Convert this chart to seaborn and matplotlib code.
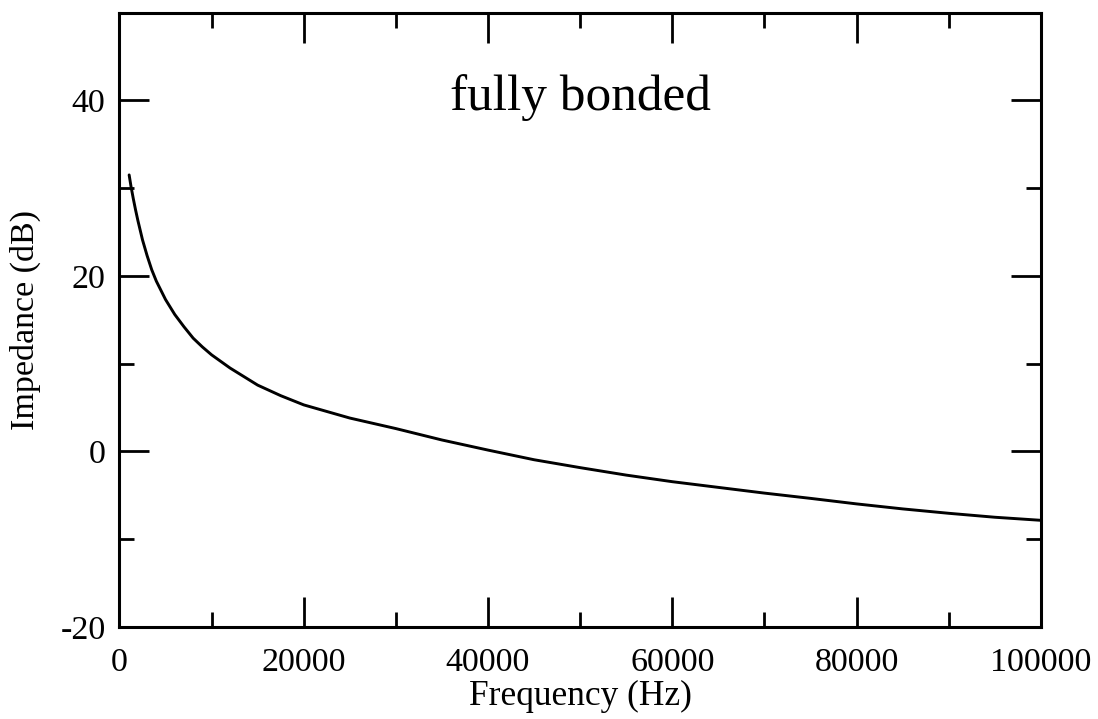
import numpy as np
import pandas as pd
import matplotlib
matplotlib.use("Agg")
import matplotlib.pyplot as plt
import seaborn as sns
from matplotlib.ticker import MultipleLocator

frequency_hz = [1050, 1250, 1500, 1750, 2000, 2500, 3000, 3500, 4000, 5000, 6000,
                7000, 8000, 9000, 10000, 12000, 15000, 17500, 20000, 25000, 30000,
                35000, 40000, 45000, 50000, 55000, 60000, 65000, 70000, 75000,
                80000, 85000, 90000, 95000, 100000]
impedance_db = [31.5, 30.2, 28.8, 27.5, 26.3, 24.1, 22.3, 20.7, 19.4, 17.3, 15.6,
                14.2, 12.9, 11.9, 11.0, 9.5, 7.55, 6.35, 5.3, 3.8, 2.6,
                1.3, 0.15, -0.95, -1.85, -2.7, -3.45, -4.1, -4.75, -5.35,
                -5.98, -6.55, -7.05, -7.5, -7.85]

title_text = "fully bonded"
x_label = "Frequency (Hz)"
y_label = "Impedance (dB)"

sns.set_theme(style="white")
plt.rcParams['font.family'] = ['Liberation Serif', 'DejaVu Serif']
plt.rcParams['text.color'] = 'black'
plt.rcParams['axes.labelcolor'] = 'black'
plt.rcParams['xtick.color'] = 'black'
plt.rcParams['ytick.color'] = 'black'

df = pd.DataFrame({"f": frequency_hz, "z": impedance_db})

fig = plt.figure(figsize=(10.98, 7.19), dpi=100)
ax = fig.add_axes([0.1088, 0.128, 0.948 - 0.1088, 0.9826 - 0.128])

sns.lineplot(data=df, x="f", y="z", ax=ax, color="black", linewidth=2.1)

ax.set_xlim(0, 100000)
ax.set_ylim(-20, 50)
ax.xaxis.set_major_locator(MultipleLocator(20000))
ax.xaxis.set_minor_locator(MultipleLocator(10000))
ax.yaxis.set_minor_locator(MultipleLocator(10))
ax.set_yticks([-20, 0, 20, 40])
ax.set_yticklabels(["-20", "0", "20", "40"])

ax.tick_params(which="both", direction="in", top=True, right=True,
               bottom=True, left=True, color="black", labelcolor="black", width=2.0)
ax.tick_params(which="major", length=21.5, labelsize=24.5, pad=10)
ax.tick_params(axis="x", which="major", pad=15)
ax.tick_params(which="minor", length=10.8)

for s in ax.spines.values():
    s.set_color("black")
    s.set_linewidth(2.2)

ax.set_xlabel(x_label, fontsize=25.5, labelpad=1.5, color="black")
ax.set_ylabel(y_label, fontsize=24.5, labelpad=14, color="black")
ax.text(50000, 40.3, title_text, fontsize=37, ha="center", va="center", color="black")

fig.savefig("out.png", dpi=100)
